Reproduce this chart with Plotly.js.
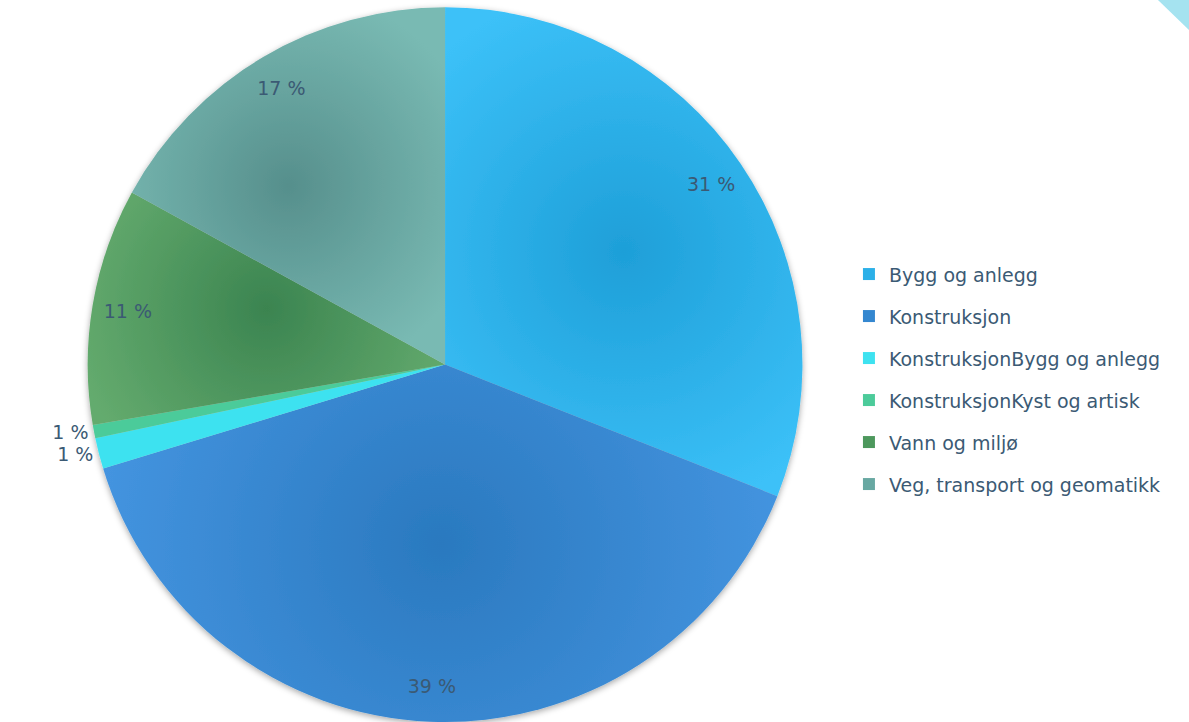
<!DOCTYPE html>
<html>
<head>
<meta charset="utf-8">
<script src="https://cdn.plot.ly/plotly-3.0.1.min.js"></script>
<style>html,body{margin:0;padding:0;background:#fff;}#chart{width:1189px;height:722px;}</style>
</head>
<body>
<div id="chart"></div>
<script>
const categories = ['Bygg og anlegg', 'Konstruksjon', 'KonstruksjonBygg og anlegg', 'KonstruksjonKyst og artisk', 'Vann og miljø', 'Veg, transport og geomatikk'];
const shares = [31.0, 39.3, 1.4, 0.6, 10.7, 17.0];
const shareLabels = ['31 %', '39 %', '1 %', '1 %', '11 %', '17 %'];
const sliceColors = ['#2cb0e8', '#3487d0', '#3ee2f0', '#4ccb9a', '#4d985d', '#68a8a2'];
const sliceCenterColors = ['#1e9fd8', '#2a79bf', '#3ee2f0', '#4ccb9a', '#3b8450', '#568f8c'];
const sliceEdgeColors = ['#3cc1f8', '#4696e2', '#3ee2f0', '#4ccb9a', '#64ab6e', '#79bab3'];
const labelPositions = ['inside', 'inside', 'outside', 'outside', 'inside', 'inside'];

const textColor = '#3b5a74';
const fontFam = '"DejaVu Sans", sans-serif';
const legendLabels = categories.map(c => '<span style="font-size:19px;baseline-shift:4px">' + c + '</span>');

const pieBase = {
  type: 'pie',
  labels: legendLabels,
  values: shares,
  sort: false,
  direction: 'clockwise',
  rotation: 0,
  domain: {x: [0.0737, 0.6749], y: [0, 0.99]},
  hoverinfo: 'skip'
};

const fillTrace = Object.assign({}, pieBase, {
  marker: {colors: sliceColors, line: {width: 0}},
  textinfo: 'none',
  showlegend: true
});

const labelTrace = Object.assign({}, pieBase, {
  hole: 0.8,
  marker: {colors: categories.map(() => 'rgba(0,0,0,0)'), line: {width: 0}},
  text: shareLabels,
  textinfo: 'text',
  textposition: labelPositions,
  insidetextorientation: 'horizontal',
  textfont: {family: fontFam, size: 19, color: textColor},
  showlegend: false
});

const layout = {
  width: 1189,
  height: 722,
  margin: {l: 0, r: 0, t: 0, b: 0},
  paper_bgcolor: '#ffffff',
  showlegend: true,
  legend: {
    x: 0.714, xanchor: 'left',
    y: 0.475, yanchor: 'middle',
    font: {family: fontFam, size: 30, color: textColor},
    bgcolor: 'rgba(0,0,0,0)'
  },
  shapes: [{
    type: 'path', xref: 'paper', yref: 'paper',
    path: 'M 0.9739 1 L 1 1 L 1 0.9584 Z',
    fillcolor: '#a5e3f0', line: {width: 0}
  }]
};

Plotly.newPlot('chart', [fillTrace, labelTrace], layout, {displayModeBar: false, staticPlot: true}).then(gd => {
  const NS = 'http://www.w3.org/2000/svg';
  const svg = gd.querySelector('.main-svg');
  let defs = svg.querySelector('defs');
  if (!defs) { defs = document.createElementNS(NS, 'defs'); svg.insertBefore(defs, svg.firstChild); }
  const filt = document.createElementNS(NS, 'filter');
  filt.setAttribute('id', 'pieShadow');
  filt.setAttribute('x', '-10%'); filt.setAttribute('y', '-10%');
  filt.setAttribute('width', '120%'); filt.setAttribute('height', '120%');
  const ds = document.createElementNS(NS, 'feDropShadow');
  ds.setAttribute('dx', '0'); ds.setAttribute('dy', '2');
  ds.setAttribute('stdDeviation', '3');
  ds.setAttribute('flood-color', '#000'); ds.setAttribute('flood-opacity', '0.35');
  filt.appendChild(ds);
  defs.appendChild(filt);
  const traces = gd.querySelectorAll('.pielayer .trace');
  if (!traces.length) return;
  traces[0].setAttribute('filter', 'url(#pieShadow)');
  traces[0].querySelectorAll('.slice path.surface').forEach((p, i) => {
    if (i >= sliceCenterColors.length) return;
    const bb = p.getBBox();
    const g = document.createElementNS(NS, 'radialGradient');
    g.setAttribute('id', 'sliceGrad' + i);
    g.setAttribute('gradientUnits', 'userSpaceOnUse');
    g.setAttribute('cx', bb.x + bb.width / 2);
    g.setAttribute('cy', bb.y + bb.height / 2);
    g.setAttribute('r', Math.max(bb.width, bb.height) * 0.55);
    const s1 = document.createElementNS(NS, 'stop');
    s1.setAttribute('offset', '0'); s1.setAttribute('stop-color', sliceCenterColors[i]);
    const s2 = document.createElementNS(NS, 'stop');
    s2.setAttribute('offset', '1'); s2.setAttribute('stop-color', sliceEdgeColors[i]);
    g.appendChild(s1); g.appendChild(s2);
    defs.appendChild(g);
    p.style.fill = 'url(#sliceGrad' + i + ')';
  });
});
</script>
</body>
</html>
